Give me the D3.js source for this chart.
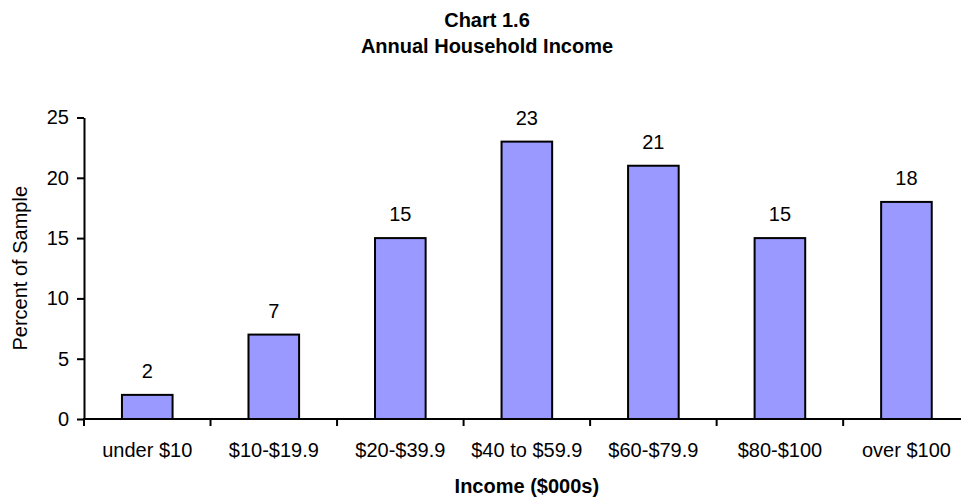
<!DOCTYPE html>
<html>
<head>
<meta charset="utf-8">
<script src="https://cdn.jsdelivr.net/npm/d3@7"></script>
<style>
  body { margin: 0; background: #fff; }
  svg { display: block; font-family: "Liberation Sans", Arial, sans-serif; }
</style>
</head>
<body>
<svg id="chart" width="961" height="501"></svg>
<script>
'use strict';

// chart data
var categories = ['under $10', '$10-$19.9', '$20-$39.9', '$40 to $59.9', '$60-$79.9', '$80-$100', 'over $100'];
var percents = [2, 7, 15, 23, 21, 15, 18];
var yTicks = [0, 5, 10, 15, 20, 25];

var svg = d3.select('#chart').style('overflow', 'hidden');

var plot = { left: 84, right: 969.7, top: 117.5, bottom: 419 };

var x = d3.scaleBand().domain(categories).range([plot.left, plot.right]).padding(0);
var y = d3.scaleLinear().domain([0, 25]).range([plot.bottom, plot.top]);

var barW = x.bandwidth() * 0.4;

// titles
svg.append('text')
    .attr('x', 487).attr('y', 27)
    .attr('text-anchor', 'middle')
    .style('font-size', '20px').style('font-weight', 'bold')
    .text('Chart 1.6');
svg.append('text')
    .attr('x', 487).attr('y', 53)
    .attr('text-anchor', 'middle')
    .style('font-size', '20px').style('font-weight', 'bold')
    .text('Annual Household Income');

// bars
svg.append('g').selectAll('rect')
    .data(percents)
    .enter().append('rect')
    .attr('x', function(d, i) { return x(categories[i]) + (x.bandwidth() - barW) / 2; })
    .attr('y', function(d) { return y(d); })
    .attr('width', barW)
    .attr('height', function(d) { return y(0) - y(d); })
    .style('fill', '#9999ff')
    .style('stroke', '#000')
    .style('stroke-width', 2);

// value labels
svg.append('g').selectAll('text')
    .data(percents)
    .enter().append('text')
    .attr('x', function(d, i) { return x(categories[i]) + x.bandwidth() / 2; })
    .attr('y', function(d) { return y(d) - 17; })
    .attr('text-anchor', 'middle')
    .style('font-size', '20px')
    .text(function(d) { return d; });

// y axis
var yAxis = svg.append('g')
    .attr('transform', 'translate(' + plot.left + ',0)')
    .call(d3.axisLeft(y).tickValues(yTicks).tickSize(7).tickPadding(8).tickSizeOuter(0));
yAxis.select('.domain').style('stroke-width', 2);
yAxis.selectAll('.tick line').style('stroke-width', 2);
yAxis.selectAll('.tick text')
    .style('font-size', '20px')
    .style('font-family', '"Liberation Sans", Arial, sans-serif')
    .attr('fill', '#000');

// x axis: labels under each band, ticks at band edges
var xAxis = svg.append('g')
    .attr('transform', 'translate(0,' + plot.bottom + ')')
    .call(d3.axisBottom(x).tickSize(0).tickPadding(23.5));
xAxis.select('.domain').remove();
xAxis.selectAll('.tick text')
    .style('font-size', '20px')
    .style('font-family', '"Liberation Sans", Arial, sans-serif')
    .attr('fill', '#000');

var edges = categories.map(function(c) { return x(c); }).concat([plot.right]);
svg.append('g').selectAll('line')
    .data(edges)
    .enter().append('line')
    .attr('x1', function(d) { return d; })
    .attr('x2', function(d) { return d; })
    .attr('y1', plot.bottom)
    .attr('y2', plot.bottom + 7)
    .style('stroke', '#000')
    .style('stroke-width', 2);

svg.append('line')
    .attr('x1', plot.left - 1).attr('x2', plot.right)
    .attr('y1', plot.bottom).attr('y2', plot.bottom)
    .style('stroke', '#000')
    .style('stroke-width', 2);

// axis titles
svg.append('text')
    .attr('transform', 'translate(27,' + ((plot.top + plot.bottom) / 2) + ') rotate(-90)')
    .attr('text-anchor', 'middle')
    .style('font-size', '20px')
    .text('Percent of Sample');

svg.append('text')
    .attr('x', (plot.left + plot.right) / 2).attr('y', 493)
    .attr('text-anchor', 'middle')
    .style('font-size', '20px').style('font-weight', 'bold')
    .text('Income ($000s)');
</script>
</body>
</html>
